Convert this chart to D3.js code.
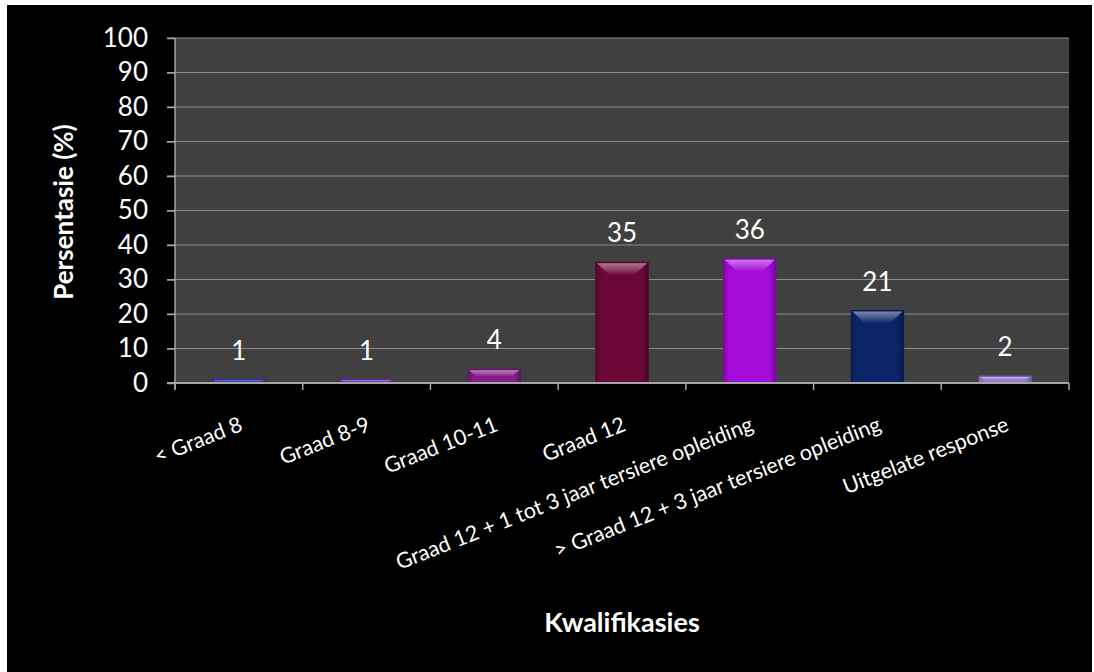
<!DOCTYPE html>
<html>
<head>
<meta charset="utf-8">
<script src="https://cdn.jsdelivr.net/npm/d3@7"></script>
<style>
  html, body { margin: 0; padding: 0; background: #fff; }
  svg { display: block; }
  text { font-family: Lato, "Open Sans", sans-serif; fill: #fff; }
</style>
</head>
<body>
<div id="chart"></div>
<script>
const categories = ["< Graad 8", "Graad 8-9", "Graad 10-11", "Graad 12", "Graad 12 + 1 tot 3 jaar tersiere opleiding", "> Graad 12 + 3 jaar tersiere opleiding", "Uitgelate response"];
const values = [1, 1, 4, 35, 36, 21, 2];
const barColors = ["#3b3bc4", "#7e3cc8", "#861a86", "#6c0838", "#a40ad8", "#0c2468", "#9a7ad8"];
const yTicks = [0, 10, 20, 30, 40, 50, 60, 70, 80, 90, 100];

const W = 1094, H = 672;
const plot = { left: 175, right: 1069, top: 38, bottom: 383 };

const svg = d3.select("#chart").append("svg").attr("width", W).attr("height", H);
svg.append("rect").attr("x", 7).attr("y", 5).attr("width", 1085).attr("height", H - 5).attr("fill", "#000");

const x = d3.scaleBand().domain(categories).range([plot.left, plot.right]).paddingInner(0.59).paddingOuter(0.295);
const y = d3.scaleLinear().domain([0, 100]).range([plot.bottom, plot.top]);
const step = x.step();

// plot background
svg.append("rect").attr("x", plot.left).attr("y", plot.top).attr("width", plot.right - plot.left).attr("height", plot.bottom - plot.top).attr("fill", "#404040");

// grid
svg.append("g").selectAll("line").data(yTicks.filter((t) => t > 0)).join("line")
  .attr("x1", plot.left - 8).attr("x2", plot.right)
  .attr("y1", (d) => y(d)).attr("y2", (d) => y(d))
  .attr("stroke", "#8c8c8c").attr("stroke-width", 1);

// y axis
const yAxis = svg.append("g").attr("transform", `translate(${plot.left},0)`)
  .call(d3.axisLeft(y).tickValues(yTicks).tickSize(8).tickPadding(19));
yAxis.select(".domain").attr("stroke", "#a6a6a6").attr("stroke-width", 1.5).attr("d", `M0,${plot.top}V${plot.bottom + 7}`);
yAxis.selectAll(".tick line").attr("stroke", "#a6a6a6").attr("stroke-width", 1.5);
yAxis.selectAll(".tick text").attr("font-size", 26).attr("fill", "#fff").attr("font-family", "Lato, sans-serif");

// defs for bevel
const defs = svg.append("defs");
const topGrad = defs.append("linearGradient").attr("id", "topGlow").attr("x1", 0).attr("y1", 0).attr("x2", 0).attr("y2", 1);
topGrad.append("stop").attr("offset", "0%").attr("stop-color", "#fff").attr("stop-opacity", 0.45);
topGrad.append("stop").attr("offset", "100%").attr("stop-color", "#fff").attr("stop-opacity", 0.05);
const sideGrad = defs.append("linearGradient").attr("id", "sideShade").attr("x1", 0).attr("y1", 0).attr("x2", 1).attr("y2", 0);
sideGrad.append("stop").attr("offset", "0%").attr("stop-color", "#000").attr("stop-opacity", 0.18);
sideGrad.append("stop").attr("offset", "12%").attr("stop-color", "#000").attr("stop-opacity", 0);
sideGrad.append("stop").attr("offset", "88%").attr("stop-color", "#000").attr("stop-opacity", 0);
sideGrad.append("stop").attr("offset", "100%").attr("stop-color", "#000").attr("stop-opacity", 0.3);

const bars = svg.append("g").selectAll("g").data(values).join("g");
bars.append("rect")
  .attr("x", (d, i) => x(categories[i])).attr("y", (d) => y(d))
  .attr("width", x.bandwidth()).attr("height", (d) => y(0) - y(d))
  .attr("fill", (d, i) => barColors[i]);
bars.append("rect")
  .attr("x", (d, i) => x(categories[i])).attr("y", (d) => y(d))
  .attr("width", x.bandwidth()).attr("height", (d) => y(0) - y(d))
  .attr("fill", "url(#sideShade)")
  .attr("stroke", (d, i) => d3.color(barColors[i]).darker(0.8)).attr("stroke-width", 1);
bars.append("path")
  .attr("d", (d, i) => {
    const x0 = x(categories[i]), x1 = x0 + x.bandwidth(), y0 = y(d);
    const h = Math.min(12, (y(0) - y(d)) / 2);
    return `M${x0 + 1},${y0 + 1}L${x1 - 1},${y0 + 1}L${x1 - 1 - h},${y0 + h}L${x0 + 1 + h},${y0 + h}Z`;
  })
  .attr("fill", "url(#topGlow)");

// value labels
svg.append("g").selectAll("text").data(values).join("text")
  .attr("x", (d, i) => x(categories[i]) + x.bandwidth() / 2)
  .attr("y", (d) => y(d) - 20)
  .attr("text-anchor", "middle").attr("font-size", 26)
  .text((d) => d);

// x axis
const xg = svg.append("g");
xg.append("line").attr("x1", plot.left - 8).attr("x2", plot.right).attr("y1", plot.bottom).attr("y2", plot.bottom)
  .attr("stroke", "#a6a6a6").attr("stroke-width", 2);
xg.selectAll(".xt").data(d3.range(categories.length + 1)).join("line").attr("class", "xt")
  .attr("x1", (i) => plot.left + i * step).attr("x2", (i) => plot.left + i * step)
  .attr("y1", plot.bottom).attr("y2", plot.bottom + 7)
  .attr("stroke", "#a6a6a6").attr("stroke-width", 1.5);
xg.selectAll("text").data(categories).join("text")
  .attr("transform", (d) => `translate(${x(d) + x.bandwidth() / 2 + 3},${plot.bottom + 42}) rotate(-21.5)`)
  .attr("text-anchor", "end").attr("dominant-baseline", "middle")
  .attr("font-size", 21.5)
  .text((d) => d);

// axis titles
svg.append("text")
  .attr("transform", `translate(73,212) rotate(-90)`)
  .attr("text-anchor", "middle").attr("font-size", 26).attr("font-weight", "bold")
  .text("Persentasie (%)");
svg.append("text")
  .attr("x", (plot.left + plot.right) / 2).attr("y", 632)
  .attr("text-anchor", "middle").attr("font-size", 27).attr("font-weight", "bold")
  .text("Kwalifikasies");
</script>
</body>
</html>
